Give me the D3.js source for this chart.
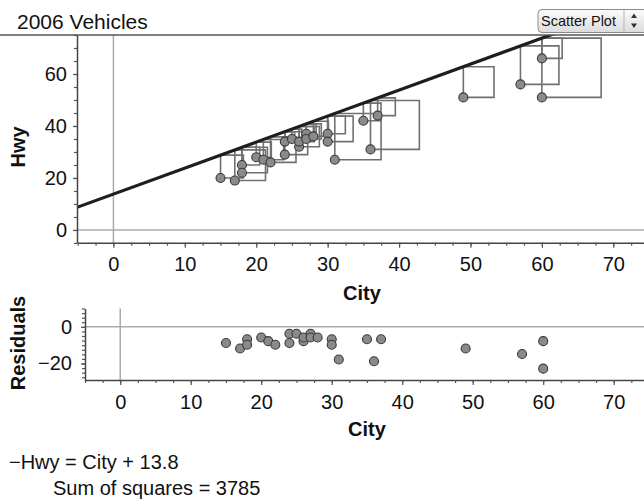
<!DOCTYPE html>
<html>
<head>
<meta charset="utf-8">
<script src="https://cdn.jsdelivr.net/npm/d3@7"></script>
<style>
  html, body { margin: 0; padding: 0; background: #fff; }
  svg { display: block; font-family: "Liberation Sans", Arial, Helvetica, sans-serif; }
</style>
</head>
<body>
<svg id="chart" width="644" height="500"></svg>
<script>
// ---- data ----
const city = [15, 17, 18, 18, 20, 21, 22, 24, 24, 25, 26, 26, 27, 27, 28, 30, 30, 31, 35, 36, 37, 49, 57, 60, 60];
const hwy  = [20, 19, 25, 22, 28, 27, 26, 34, 29, 35, 32, 34, 37, 35, 36, 37, 34, 27, 42, 31, 44, 51, 56, 66, 51];
const lineSlope = 1;
const lineIntercept = 13.8;
const sumOfSquaresText = "Sum of squares = 3785";
const equationText = "\u2212Hwy = City + 13.8";
const titleText = "2006 Vehicles";
const mainXTicks = [0, 10, 20, 30, 40, 50, 60, 70];
const mainYTicks = [0, 20, 40, 60];
const resYTicks = [0, -20];

const points = city.map((c, i) => ({ c, h: hwy[i], r: hwy[i] - (lineSlope * c + lineIntercept) }));

const svg = d3.select("#chart");
const FONT = 20;

// ---- scales ----
const x = d3.scaleLinear().domain([-5.1, 74.3]).range([77, 644]);
const y = d3.scaleLinear().domain([-4.9, 75]).range([242.7, 35]);
const xr = d3.scaleLinear().domain([-5, 74.3]).range([85, 644]);
const yr = d3.scaleLinear().domain([-29, 10]).range([380, 308.5]);

// ---- title & button ----
svg.append("text").attr("x", 17).attr("y", 29).attr("font-size", 21).attr("fill", "#111").text(titleText);

const defs = svg.append("defs");
const grad = defs.append("linearGradient").attr("id", "btn").attr("x1", 0).attr("y1", 0).attr("x2", 0).attr("y2", 1);
grad.append("stop").attr("offset", "0%").attr("stop-color", "#fbfbfb");
grad.append("stop").attr("offset", "100%").attr("stop-color", "#dcdcdc");
defs.append("clipPath").attr("id", "clipMain").append("rect").attr("x", 77).attr("y", 35).attr("width", 567).attr("height", 208);

svg.append("rect").attr("x", 538).attr("y", 9.5).attr("width", 112).attr("height", 23).attr("rx", 4)
  .attr("fill", "url(#btn)").attr("stroke", "#8a8a8a").attr("stroke-width", 1);
svg.append("line").attr("x1", 624).attr("x2", 624).attr("y1", 10).attr("y2", 32).attr("stroke", "#b5b5b5");
svg.append("text").attr("x", 541).attr("y", 26).attr("font-size", 14.5).attr("fill", "#111").text("Scatter Plot");
svg.append("path").attr("d", "M631,18 L634,13.5 L637,18 Z").attr("fill", "#333");
svg.append("path").attr("d", "M631,23.5 L634,28 L637,23.5 Z").attr("fill", "#333");

// ---- main plot ----
// grid at zero
svg.append("line").attr("x1", 77).attr("x2", 644).attr("y1", y(0)).attr("y2", y(0)).attr("stroke", "#ababab").attr("stroke-width", 1.5);
svg.append("line").attr("x1", x(0)).attr("x2", x(0)).attr("y1", 35).attr("y2", 242.7).attr("stroke", "#ababab").attr("stroke-width", 1.5);

const plot = svg.append("g").attr("clip-path", "url(#clipMain)");

// squares
plot.selectAll("path.sq").data(points).join("path").attr("class", "sq")
  .attr("d", d => {
    const px = x(d.c), py = y(d.h), ly = y(lineSlope * d.c + lineIntercept);
    const s = py - ly;
    return `M${px},${py} L${px},${ly} L${px + s},${ly} L${px + s},${py} Z`;
  })
  .attr("fill", "none").attr("stroke", "#707070").attr("stroke-width", 1.6);

// regression line
const xd = x.domain();
plot.append("path")
  .datum([xd[0], xd[1]])
  .attr("d", d3.line().x(v => x(v)).y(v => y(lineSlope * v + lineIntercept)))
  .attr("stroke", "#1e1e1e").attr("stroke-width", 3.2).attr("fill", "none");

// points
plot.selectAll("circle").data(points).join("circle")
  .attr("cx", d => x(d.c)).attr("cy", d => y(d.h)).attr("r", 4.5)
  .attr("fill", "#8a8a8a").attr("stroke", "#3a3a3a").attr("stroke-width", 1.1);

// top border (title underline)
svg.append("line").attr("x1", 0).attr("x2", 644).attr("y1", 35).attr("y2", 35).attr("stroke", "#555").attr("stroke-width", 1.5);

function styleAxis(g) {
  g.select(".domain").attr("stroke", "#444").attr("stroke-width", 1.5);
  g.selectAll(".tick line").attr("stroke", "#555").attr("stroke-width", 1.2);
  g.selectAll("text").attr("font-size", FONT).attr("fill", "#111").attr("font-family", "Liberation Sans, Arial, Helvetica, sans-serif");
}

// main x axis
const minorMainX = d3.range(-5, 75, 2.5);
svg.append("g").attr("transform", "translate(0,242.7)")
  .call(d3.axisBottom(x).tickValues(minorMainX).tickSize(3).tickFormat("").tickSizeOuter(0))
  .call(styleAxis);
svg.append("g").attr("transform", "translate(0,242.7)")
  .call(d3.axisBottom(x).tickValues(mainXTicks).tickSize(5).tickPadding(9.5).tickSizeOuter(0))
  .call(g => g.select(".domain").remove())
  .call(styleAxis);

// main y axis
const minorMainY = d3.range(-5, 76, 5);
svg.append("g").attr("transform", "translate(77,0)")
  .call(d3.axisLeft(y).tickValues(minorMainY).tickSize(3).tickFormat("").tickSizeOuter(0))
  .call(styleAxis);
svg.append("g").attr("transform", "translate(77,0)")
  .call(d3.axisLeft(y).tickValues(mainYTicks).tickSize(4).tickPadding(6).tickSizeOuter(0))
  .call(g => g.select(".domain").remove())
  .call(styleAxis);

svg.append("text").attr("x", 362).attr("y", 299.5).attr("text-anchor", "middle")
  .attr("font-size", FONT).attr("font-weight", "bold").attr("fill", "#111").text("City");
svg.append("text").attr("transform", "translate(25,147) rotate(-90)").attr("text-anchor", "middle")
  .attr("font-size", FONT).attr("font-weight", "bold").attr("fill", "#111").text("Hwy");

// ---- residual plot ----
svg.append("line").attr("x1", 85).attr("x2", 644).attr("y1", yr(0)).attr("y2", yr(0)).attr("stroke", "#ababab").attr("stroke-width", 1.5);
svg.append("line").attr("x1", xr(0)).attr("x2", xr(0)).attr("y1", 308.5).attr("y2", 380).attr("stroke", "#ababab").attr("stroke-width", 1.5);

svg.append("g").selectAll("circle").data(points).join("circle")
  .attr("cx", d => xr(d.c)).attr("cy", d => yr(d.r)).attr("r", 4.5)
  .attr("fill", "#8a8a8a").attr("stroke", "#3a3a3a").attr("stroke-width", 1.1);

const minorResX = d3.range(-5, 75, 2.5);
svg.append("g").attr("transform", "translate(0,380)")
  .call(d3.axisBottom(xr).tickValues(minorResX).tickSize(3).tickFormat("").tickSizeOuter(0))
  .call(styleAxis);
svg.append("g").attr("transform", "translate(0,380)")
  .call(d3.axisBottom(xr).tickValues(mainXTicks).tickSize(5).tickPadding(9.5).tickSizeOuter(0))
  .call(g => g.select(".domain").remove())
  .call(styleAxis);

const minorResY = d3.range(-27.5, 10.1, 2.5);
svg.append("g").attr("transform", "translate(85,0)")
  .call(d3.axisLeft(yr).tickValues(minorResY).tickSize(3).tickFormat("").tickSizeOuter(0))
  .call(styleAxis);
svg.append("g").attr("transform", "translate(85,0)")
  .call(d3.axisLeft(yr).tickValues(resYTicks).tickSize(4).tickPadding(9).tickSizeOuter(0))
  .call(g => g.select(".domain").remove())
  .call(styleAxis);

svg.append("text").attr("x", 367).attr("y", 436).attr("text-anchor", "middle")
  .attr("font-size", FONT).attr("font-weight", "bold").attr("fill", "#111").text("City");
svg.append("text").attr("transform", "translate(25,343) rotate(-90)").attr("text-anchor", "middle")
  .attr("font-size", FONT).attr("font-weight", "bold").attr("fill", "#111").text("Residuals");

// ---- footer texts ----
svg.append("text").attr("x", 9).attr("y", 468.5).attr("font-size", FONT).attr("fill", "#111").text(equationText);
svg.append("text").attr("x", 53).attr("y", 495).attr("font-size", FONT).attr("fill", "#111").text(sumOfSquaresText);
</script>
</body>
</html>
